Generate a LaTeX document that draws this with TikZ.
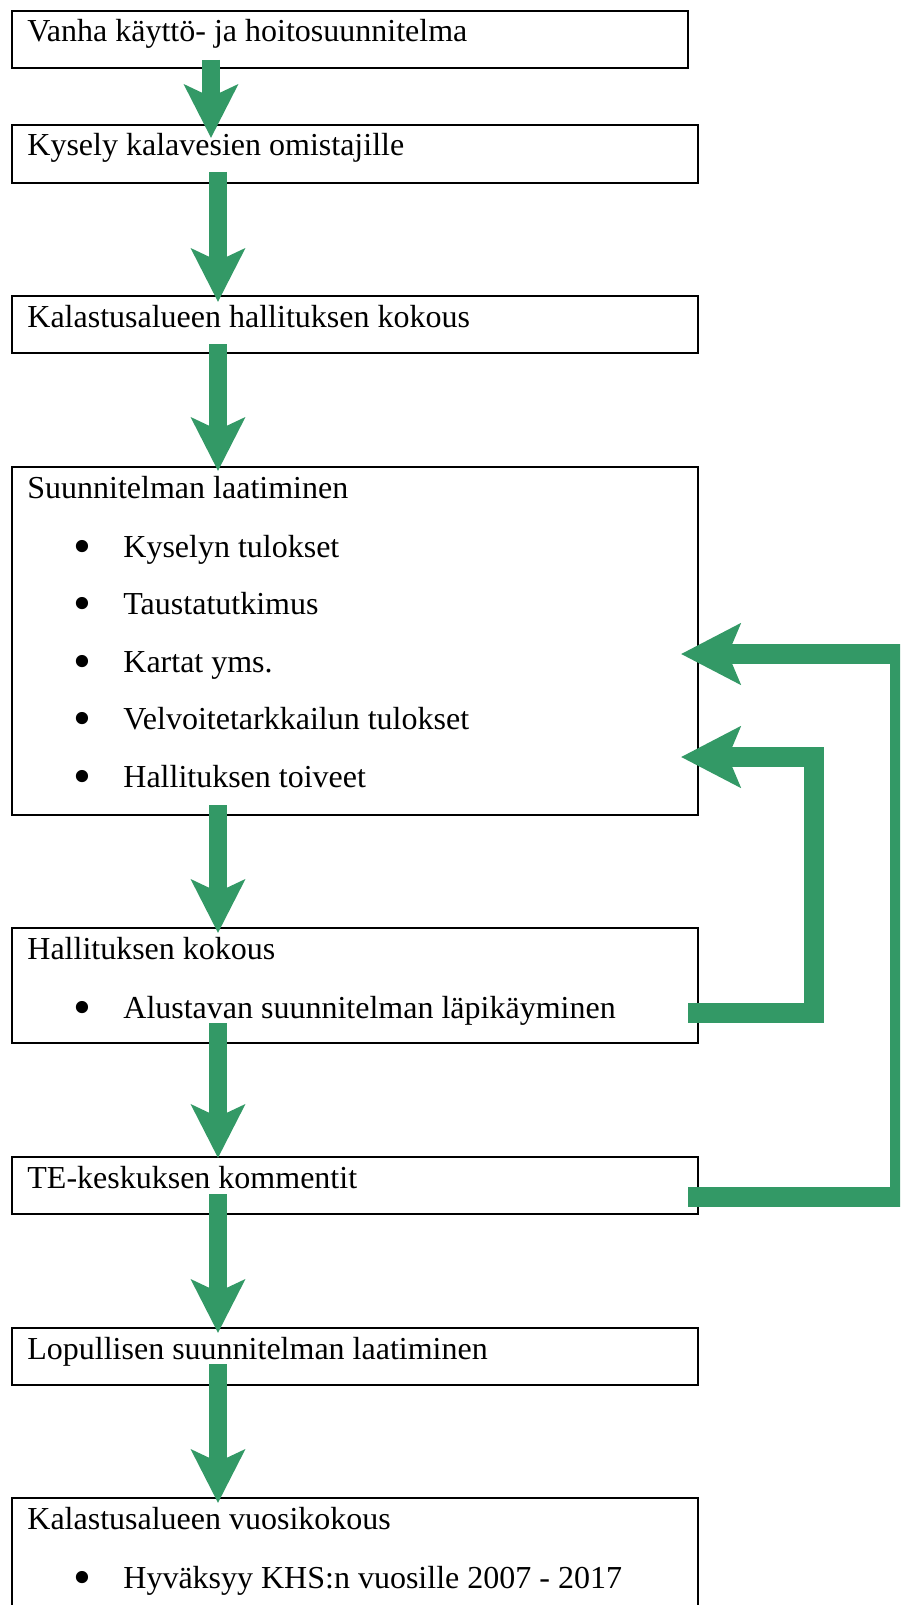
\documentclass[tikz,border=0pt]{standalone}
\usepackage{fontspec}
\setmainfont{Liberation Serif}
\usetikzlibrary{positioning}
\usetikzlibrary{calc}
\usetikzlibrary{arrows.meta}
\definecolor{flowgreen}{HTML}{339966}
\tikzset{box/.style={draw,line width=1pt,minimum width=343pt,inner sep=0pt,outer sep=0pt}}
\tikzset{txt/.style={inner sep=0pt,font=\fontsize{16}{19}\selectfont}}
\tikzset{flow/.style={draw=flowgreen,line width=9pt,-{Stealth[length=26.5pt,width=26.5pt,inset=6pt]}}}
\tikzset{back/.style={draw=flowgreen,line width=10pt,-{Stealth[length=29.5pt,width=30pt,inset=6pt]}}}
\newcommand{\dotitem}{\makebox[25pt][l]{\raisebox{-3pt}{\scalebox{1.6}{\textbullet}}}}

\begin{document}
\begin{tikzpicture}[x=0.5pt,y=0.5pt]
\useasboundingbox (0,0) rectangle (900,-1605);
\clip (0,0) rectangle (900,-1605);

% boxes
\node[box,minimum width=338pt,minimum height=28.5pt,anchor=north west] (B1) at (12,-11) {};
\node[box,minimum height=29pt] (B2) [below=28.5pt of B1.south west, anchor=north west] {};
\node[box,minimum height=28.5pt] (B3) [below=56.5pt of B2.south west, anchor=north west] {};
\node[box,minimum height=174pt] (B4) [below=57pt of B3.south west, anchor=north west] {};
\node[box,minimum height=57.5pt] (B5) [below=56.5pt of B4.south west, anchor=north west] {};
\node[box,minimum height=28.5pt] (B6) [below=57pt of B5.south west, anchor=north west] {};
\node[box,minimum height=28.5pt] (B7) [below=57pt of B6.south west, anchor=north west] {};
\node[box,minimum height=60pt] (B8) [below=56.5pt of B7.south west, anchor=north west] {};

% headings
\node[txt] (h1) [below right=15.5pt and 7.5pt of B1.north west, anchor=base west] {Vanha käyttö- ja hoitosuunnitelma};
\node[txt] (h2) [below right=15.5pt and 7.5pt of B2.north west, anchor=base west] {Kysely kalavesien omistajille};
\node[txt] (h3) [below right=15.5pt and 7.5pt of B3.north west, anchor=base west] {Kalastusalueen hallituksen kokous};
\node[txt] (h4) [below right=15.5pt and 7.5pt of B4.north west, anchor=base west] {Suunnitelman laatiminen};
\node[txt] (h5) [below right=15.5pt and 7.5pt of B5.north west, anchor=base west] {Hallituksen kokous};
\node[txt] (h6) [below right=15.5pt and 7.5pt of B6.north west, anchor=base west] {TE-keskuksen kommentit};
\node[txt] (h7) [below right=15.5pt and 7.5pt of B7.north west, anchor=base west] {Lopullisen suunnitelman laatiminen};
\node[txt] (h8) [below right=15.5pt and 7.5pt of B8.north west, anchor=base west] {Kalastusalueen vuosikokous};

% bullet items
\node[txt] (k1) [below right=29.5pt and 23pt of h4.base west, anchor=base west] {\dotitem Kyselyn tulokset};
\node[txt] (k2) [below=28.75pt of k1.base west, anchor=base west] {\dotitem Taustatutkimus};
\node[txt] (k3) [below=28.75pt of k2.base west, anchor=base west] {\dotitem Kartat yms.};
\node[txt] (k4) [below=28.75pt of k3.base west, anchor=base west] {\dotitem Velvoitetarkkailun tulokset};
\node[txt] (k5) [below=28.75pt of k4.base west, anchor=base west] {\dotitem Hallituksen toiveet};
\node[txt] (a1) [below right=29.5pt and 23pt of h5.base west, anchor=base west] {\dotitem Alustavan suunnitelman läpikäyminen};
\node[txt] (v1) [below right=29.5pt and 23pt of h8.base west, anchor=base west] {\dotitem Hyväksyy KHS:n vuosille 2007 - 2017};

% down arrows
\coordinate (ax1) at (211,0);
\coordinate (ax) at (218,0);
\draw[flow,shorten <=-4pt,shorten >=-6.5pt] (B1.south -| ax1) -- (B2.north -| ax1);
\draw[flow,shorten <=-5.5pt,shorten >=-3pt] (B2.south -| ax) -- (B3.north -| ax);
\draw[flow,shorten <=-4.5pt,shorten >=-2pt] (B3.south -| ax) -- (B4.north -| ax);
\draw[flow,shorten <=-5pt,shorten >=-2.5pt] (B4.south -| ax) -- (B5.north -| ax);
\draw[flow,shorten <=-10pt,shorten >=-0.5pt] (B5.south -| ax) -- (B6.north -| ax);
\draw[flow,shorten <=-10pt,shorten >=-2.5pt] (B6.south -| ax) -- (B7.north -| ax);
\draw[flow,shorten <=-10.5pt,shorten >=-2.5pt] (B7.south -| ax) -- (B8.north -| ax);

% feedback
\draw[back] ($(B6.east)+(-10,-11)$) -- ++(212,0) |- ($(B4.east)+(-17,-13)$);
\draw[back] ($(B5.east)+(-10,-27.5)$) -- ++(126,0) |- ($(B4.east)+(-17,-116)$);
\end{tikzpicture}
\end{document}
